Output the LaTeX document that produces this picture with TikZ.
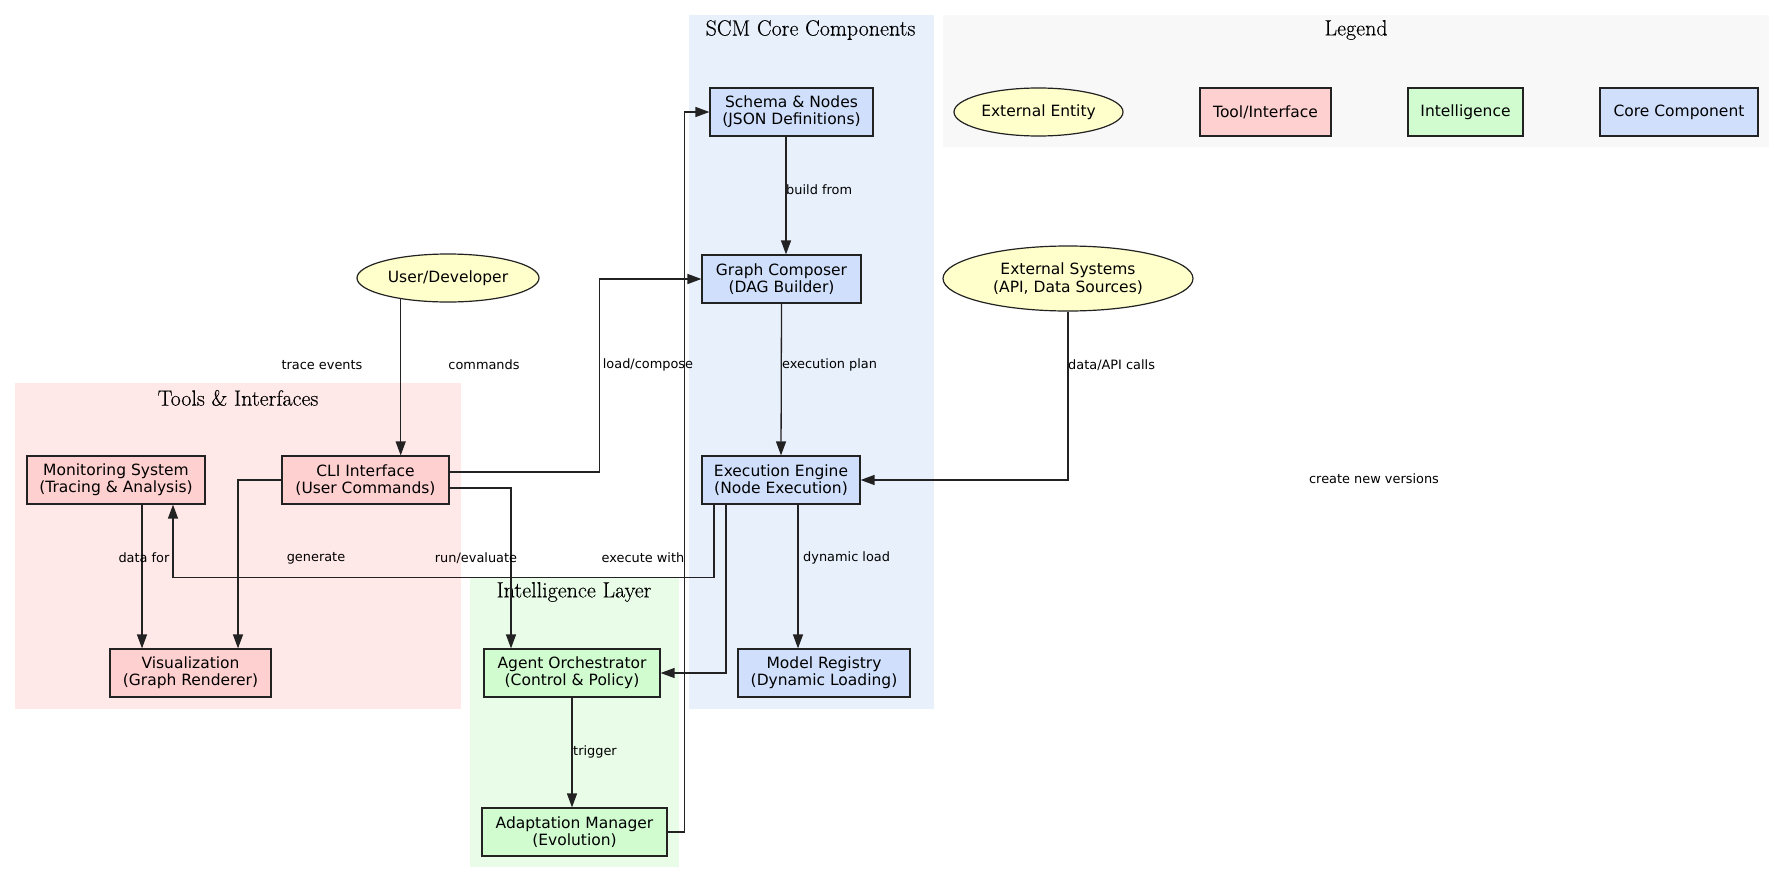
\documentclass[tikz,border=0pt]{standalone}
\usepackage{fontspec}
\newfontfamily\nodefont{DejaVu Sans}
\newfontfamily\titlefont[FakeBold=0.3]{Latin Modern Roman}
\usetikzlibrary{arrows.meta,shapes.geometric}
\definecolor{corefill}{HTML}{D0E0FC}
\definecolor{corebg}{HTML}{E8F0FC}
\definecolor{toolfill}{HTML}{FFD0D0}
\definecolor{toolbg}{HTML}{FFE8E8}
\definecolor{intfill}{HTML}{D0FCD0}
\definecolor{intbg}{HTML}{E8FCE8}
\definecolor{extfill}{HTML}{FFFFCC}
\definecolor{legbg}{HTML}{F8F8F8}
\definecolor{edgecol}{HTML}{222222}
\begin{document}
\begin{tikzpicture}[x=1pt,y=-1pt,
  box/.style={draw=edgecol, line width=1.2pt, inner sep=0pt, minimum height=48pt,
    align=center, font=\nodefont\fontsize{15.5}{17.3}\selectfont},
  core/.style={box, fill=corefill},
  tool/.style={box, fill=toolfill},
  intel/.style={box, fill=intfill},
  ext/.style={box, ellipse, fill=extfill},
  arr/.style={draw=edgecol, line width=1.3pt, -{Triangle[length=14pt,width=10pt]}},
  elabel/.style={font=\nodefont\fontsize{12.9}{15}\selectfont, inner sep=0pt},
  ctitle/.style={font=\titlefont\fontsize{22}{24}\selectfont, inner sep=0pt}
]
\useasboundingbox (0,0) rectangle (1784,883);
\fill[white] (0,0) rectangle (1784,883);
% clusters
\fill[corebg] (689,15) rectangle (934,709);
\fill[legbg] (943,15) rectangle (1769,147);
\fill[toolbg] (15,383) rectangle (461,709);
\fill[intbg] (470,578) rectangle (679,867);
\node[ctitle] (tcore) at (810.5,30) {SCM Core Components};
\node[ctitle] (tleg) at (1356,30) {Legend};
\node[ctitle] (ttool) at (238,398) {Tools \& Interfaces};
\node[ctitle] (tint) at (574,592) {Intelligence Layer};
% nodes
\node[core, minimum width=163pt] (schema) at (791.5,112) {Schema \& Nodes\\(JSON Definitions)};
\node[core, minimum width=159pt] (composer) at (781.5,279) {Graph Composer\\(DAG Builder)};
\node[core, minimum width=158pt] (engine) at (781,480) {Execution Engine\\(Node Execution)};
\node[core, minimum width=172pt] (registry) at (824,673) {Model Registry\\(Dynamic Loading)};
\node[ext, minimum width=182pt] (user) at (448,278) {User/Developer};
\node[ext, minimum width=250pt, minimum height=65pt] (extsys) at (1068,278.5) {External Systems\\(API, Data Sources)};
\node[tool, minimum width=167pt] (cli) at (365.5,480) {CLI Interface\\(User Commands)};
\node[tool, minimum width=178pt] (monitor) at (116,480) {Monitoring System\\(Tracing \& Analysis)};
\node[tool, minimum width=161pt] (vis) at (190.5,673) {Visualization\\(Graph Renderer)};
\node[intel, minimum width=176pt] (agent) at (572,673) {Agent Orchestrator\\(Control \& Policy)};
\node[intel, minimum width=185pt] (adapt) at (574.5,832) {Adaptation Manager\\(Evolution)};
% legend
\node[ext, minimum width=169pt] (legext) at (1038.5,112) {External Entity};
\node[tool, minimum width=131pt] (legtool) at (1265.5,112) {Tool/Interface};
\node[intel, minimum width=115pt] (legint) at (1465.5,112) {Intelligence};
\node[core, minimum width=158pt] (legcore) at (1679,112) {Core Component};
% edges
\draw[arr] ([xshift=-5.5]schema.south) -- ([xshift=-5.5]schema.south |- composer.north);
\draw[arr] (composer.south) -- (engine.north);
\draw[arr] ([xshift=17]engine.south) -- ([xshift=17]engine.south |- registry.north);
\draw[arr] ([xshift=-67]engine.south) -- ++(0,73) -| ([xshift=57]monitor.south);
\draw[arr] ([xshift=-55]engine.south) |- (agent.east);
\draw[arr] (user.204.9) -- (user.204.9 |- cli.north);
\draw[arr] ([yshift=8]cli.east) -- ++(150,0) |- (composer.west);
\draw[arr] ([yshift=-8]cli.east) -| ([xshift=-61]agent.north);
\draw[arr] (cli.west) -| ([xshift=47.5]vis.north);
\draw[arr] ([xshift=26]monitor.south) -- ([xshift=26]monitor.south |- vis.north);
\draw[arr] (agent.south) -- (agent.south |- adapt.north);
\draw[arr] (adapt.east) -- ++(17,0) |- (schema.west);
\draw[arr] (extsys.south) |- (engine.east);
% edge labels
\node[elabel, anchor=west] (lbuild) at (786,190) {build from};
\node[elabel, anchor=west] (lplan) at (782,365) {execution plan};
\node[elabel] (ltrace) at (322,365) {trace events};
\node[elabel] (lcmd) at (484,365) {commands};
\node[elabel] (lload) at (648,365) {load/compose};
\node[elabel, anchor=west] (lapi) at (1068,365) {data/API calls};
\node[elabel] (ldata) at (144,558) {data for};
\node[elabel] (lgen) at (316,558) {generate};
\node[elabel] (lrun) at (476,558) {run/evaluate};
\node[elabel] (lexec) at (643,558) {execute with};
\node[elabel, anchor=west] (ldyn) at (803,558) {dynamic load};
\node[elabel, anchor=west] (ltrig) at (573,752) {trigger};
\node[elabel] (lnew) at (1374,479) {create new versions};
\end{tikzpicture}
\end{document}
